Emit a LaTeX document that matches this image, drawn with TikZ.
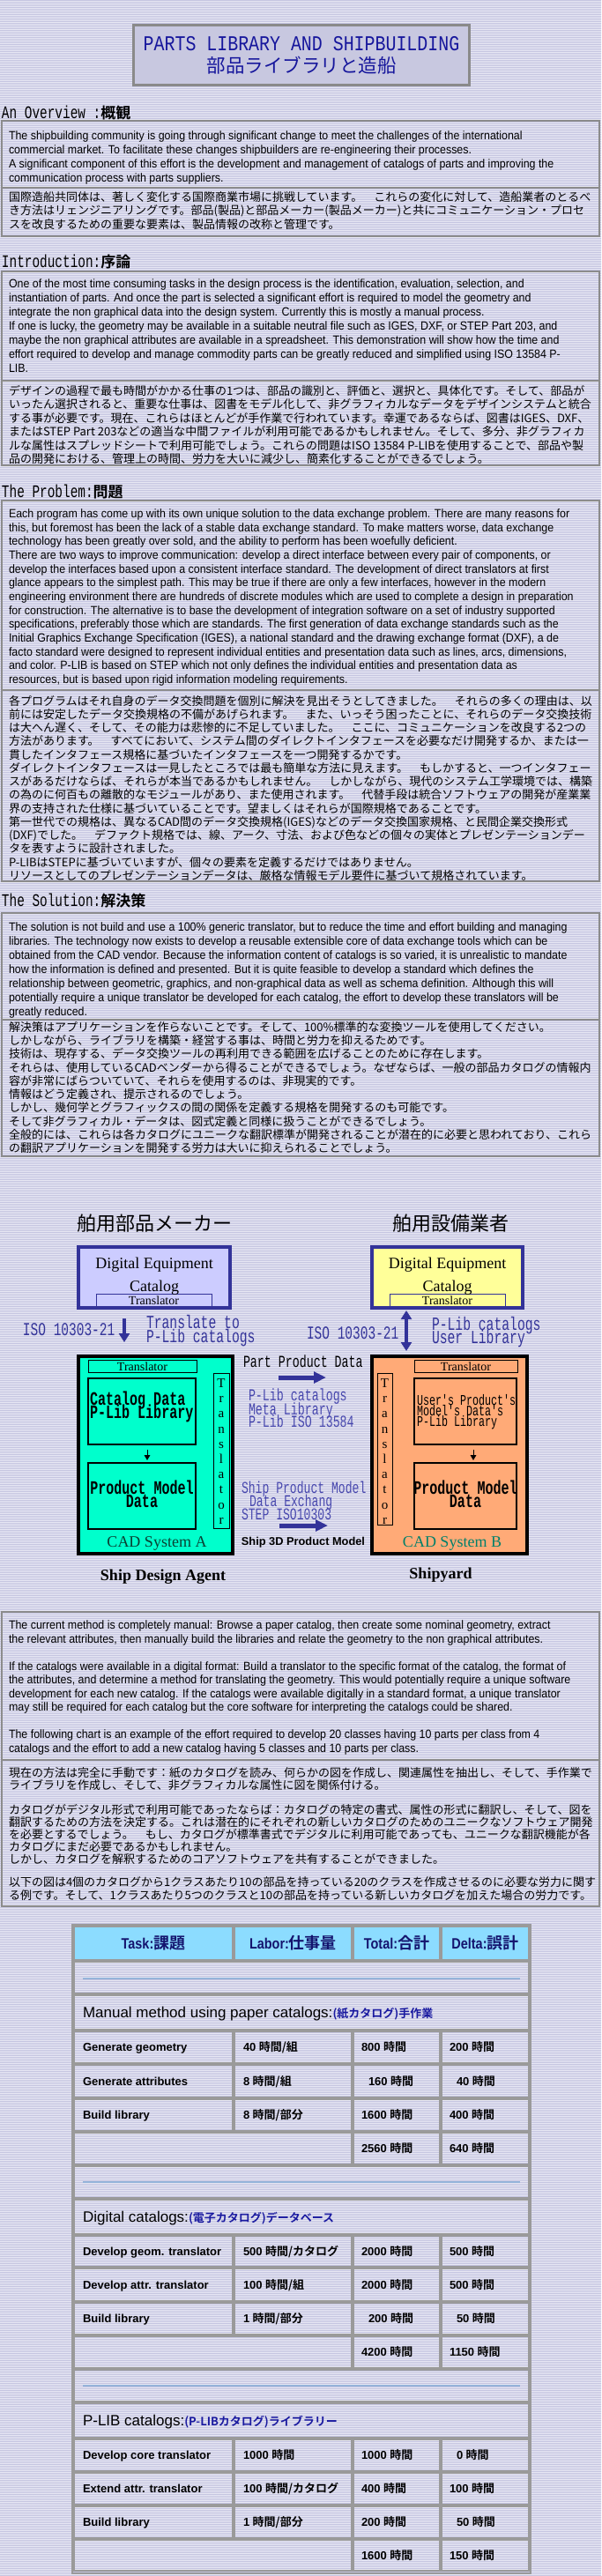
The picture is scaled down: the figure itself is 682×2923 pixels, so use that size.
\documentclass[tikz,border=0pt]{standalone}
\usepackage{fontspec}
\usetikzlibrary{arrows.meta,patterns.meta}
\setmainfont{Liberation Serif}
\newfontfamily\fEn[FakeStretch=0.92]{Liberation Sans}
\newfontfamily\fEnR{Liberation Sans}
\newfontfamily\fEnB{Liberation Sans Bold}
\newfontfamily\fEnHB[FakeStretch=0.85]{Liberation Sans Bold}
\newfontfamily\fJp{Noto Sans CJK JP}
\newfontfamily\fJpB{Noto Sans CJK JP Bold}
\newfontfamily\fHd[FakeStretch=0.72]{Liberation Mono}
\newfontfamily\fTl[FakeStretch=0.83]{Liberation Mono}
\newfontfamily\fDm[FakeStretch=0.7]{Liberation Mono}
\newfontfamily\fDmB[FakeStretch=0.7]{Liberation Mono Bold}
\newfontfamily\fSe{Liberation Serif}
\newfontfamily\fSeB{Liberation Serif Bold}
\newdimen\pxu \pxu=0.75pt
\newcommand\fsz[2]{\fontsize{#1\pxu}{#2\pxu}\selectfont}
\newcommand\ptext[3]{\parbox[t]{720\pxu}{\raggedright\fsz{#1}{#2}#3}}
\definecolor{bgA}{HTML}{E8E8F4}
\definecolor{bgB}{HTML}{C4C4E0}
\definecolor{titlefill}{HTML}{C8C8E0}
\definecolor{titleborder}{HTML}{8A8A8A}
\definecolor{titleblue}{HTML}{16169C}
\definecolor{panelline}{HTML}{8C8C8C}
\definecolor{navy}{HTML}{333399}
\definecolor{midblue}{HTML}{4848AE}
\definecolor{lavbox}{HTML}{CCCCFF}
\definecolor{yelbox}{HTML}{FFFF99}
\definecolor{aqua}{HTML}{00FFCC}
\definecolor{orng}{HTML}{FFAA77}
\definecolor{cadAc}{HTML}{0A4032}
\definecolor{cadBc}{HTML}{00806A}
\definecolor{hdrfill}{HTML}{8CDCFF}
\definecolor{hdrtext}{HTML}{14146E}
\definecolor{hrline}{HTML}{95B4DA}
\definecolor{jpblue}{HTML}{1A1AA0}
\definecolor{cellline}{HTML}{9A9A9A}
\newcounter{rw}
\newcommand\bx[7][]{\node[inner sep=0pt,outer sep=0pt,minimum width={((#5)-(#3))*0.75pt},minimum height={((#6)-(#4))*0.75pt},#1] (#2) at ({((#3)+(#5))/2},{((#4)+(#6))/2}) {#7};}
\newcommand\tv[2]{{\fEnB\fsz{13}{13}#1}\hspace{3.5\pxu}{\fJpB\fsz{13}{13}#2}}
\newcommand\trow[8]{\stepcounter{rw}%
\bx[cell]{ca\arabic{rw}}{84}{(#1)+1}{264}{(#2)-1}{}%
\bx[cell]{cb\arabic{rw}}{266}{(#1)+1}{399}{(#2)-1}{}%
\bx[cell]{cc\arabic{rw}}{401}{(#1)+1}{499}{(#2)-1}{}%
\bx[cell]{cd\arabic{rw}}{501}{(#1)+1}{600}{(#2)-1}{}%
\node[ptxt] (ta\arabic{rw}) at (94,{((#1)+(#2))/2+4.7}) {\fEnB\fsz{13}{13}#3};%
\node[ptxt] (tb\arabic{rw}) at (276,{((#1)+(#2))/2+4.7}) {#4};%
\node[ptxt] (tc\arabic{rw}) at (#7,{((#1)+(#2))/2+4.7}) {#5};%
\node[ptxt] (td\arabic{rw}) at (#8,{((#1)+(#2))/2+4.7}) {#6};}
\newcommand\ttot[4]{\stepcounter{rw}%
\bx[cell]{ca\arabic{rw}}{84}{(#1)+1}{399}{(#2)-1}{}%
\bx[cell]{cc\arabic{rw}}{401}{(#1)+1}{499}{(#2)-1}{}%
\bx[cell]{cd\arabic{rw}}{501}{(#1)+1}{600}{(#2)-1}{}%
\node[ptxt] (tc\arabic{rw}) at (410,{((#1)+(#2))/2+4.7}) {#3};%
\node[ptxt] (td\arabic{rw}) at (510,{((#1)+(#2))/2+4.7}) {#4};}
\newcommand\tsec[3]{\stepcounter{rw}%
\bx[cell]{cs\arabic{rw}}{84}{(#1)+1}{600}{(#2)-1}{}%
\node[ptxt] (ts\arabic{rw}) at (94,{((#1)+(#2))/2+6}) {#3};}
\newcommand\tsp[3]{\stepcounter{rw}%
\bx[cell]{cp\arabic{rw}}{84}{(#1)+1}{600}{(#2)-1}{}%
\coordinate (hra\arabic{rw}) at (94,#3);\coordinate (hrb\arabic{rw}) at (590,#3);%
\draw[hrline,line width=1.5pt] (hra\arabic{rw}) -- (hrb\arabic{rw});}
\begin{document}
\begin{tikzpicture}[x=0.75pt,y=-0.75pt,
  ptxt/.style={anchor=base west,inner sep=0pt,outer sep=0pt},
  ctxt/.style={anchor=base,inner sep=0pt,outer sep=0pt},
  panel/.style={draw=panelline,line width=1.1pt},
  cell/.style={draw=cellline,line width=1.1pt},
  bigarrow/.style={draw=navy,line width=3.75pt,-{Triangle[length=10.5pt,width=9.5pt]}},
  varrow/.style={draw=navy,line width=3pt},
  smallarrow/.style={draw=black,line width=0.75pt,-{Triangle[length=4.5pt,width=5pt]}}]
\path[use as bounding box] (0,0) rectangle (682,2923);
\fill[bgA] (0,0) rectangle (682,2923);
\fill[pattern={Lines[angle=0,distance=1.5pt,line width=0.75pt]},pattern color=bgB] (0,0) rectangle (682,2923);
% title
\bx[draw=titleborder,fill=titlefill,line width=2.25pt]{title}{151.5}{28.5}{532.5}{96.5}{}
\node[ctxt,text=titleblue] (tl1) at (342,57) {\fTl\fsz{24}{24}PARTS LIBRARY AND SHIPBUILDING};
\node[ctxt,text=titleblue] (tl2) at (342,82) {\fJp\fsz{21.5}{22}部品ライブラリと造船};
% overview
\node[ptxt] (h1) at (2,134) {{\fHd\fsz{20}{20}An Overview :}{\fJpB\fsz{17}{17}概観}};
\bx[panel]{ovE}{2}{137}{680}{213}{}
\bx[panel]{ovJ}{2}{213}{680}{268}{}
\node[ptxt] (ovEt) at (10,158) {\fEn\ptext{13.5}{16}{The shipbuilding community is going through significant change to meet the challenges of the international\\
commercial market. To facilitate these changes shipbuilders are re-engineering their processes.\\
A significant component of this effort is the development and management of catalogs of parts and improving the\\
communication process with parts suppliers.}};
\node[ptxt] (ovJt) at (10,228) {\fJp\ptext{13}{15.5}{国際造船共同体は、著しく変化する国際商業市場に挑戦しています。　これらの変化に対して、造船業者のとるべ\\
き方法はリェンジニアリングです。部品(製品)と部品メーカー(製品メーカー)と共にコミュニケーション・プロセ\\
スを改良するための重要な要素は、製品情報の改称と管理です。}};
% introduction
\node[ptxt] (h2) at (2,303) {{\fHd\fsz{20}{20}Introduction:}{\fJpB\fsz{17}{17}序論}};
\bx[panel]{inE}{2}{308}{680}{432}{}
\bx[panel]{inJ}{2}{432}{680}{528}{}
\node[ptxt] (inEt) at (10,326.5) {\fEn\ptext{13.5}{16}{One of the most time consuming tasks in the design process is the identification, evaluation, selection, and\\
instantiation of parts. And once the part is selected a significant effort is required to model the geometry and\\
integrate the non graphical data into the design system. Currently this is mostly a manual process.\\
If one is lucky, the geometry may be available in a suitable neutral file such as IGES, DXF, or STEP Part 203, and\\
maybe the non graphical attributes are available in a spreadsheet. This demonstration will show how the time and\\
effort required to develop and manage commodity parts can be greatly reduced and simplified using ISO 13584 P-\\
LIB.}};
\node[ptxt] (inJt) at (10,448) {\fJp\ptext{13}{15.5}{デザインの過程で最も時間がかかる仕事の1つは、部品の識別と、評価と、選択と、具体化です。そして、部品が\\
いったん選択されると、重要な仕事は、図書をモデル化して、非グラフィカルなデータをデザインシステムと統合\\
する事が必要です。現在、これらはほとんどが手作業で行われています。幸運であるならば、図書はIGES、DXF、\\
またはSTEP Part 203などの適当な中間ファイルが利用可能であるかもしれません。そして、多分、非グラフィカ\\
ルな属性はスプレッドシートで利用可能でしょう。これらの問題はISO 13584 P-LIBを使用することで、部品や製\\
品の開発における、管理上の時間、労力を大いに減少し、簡素化することができるでしょう。}};
% problem
\node[ptxt] (h3) at (2,564) {{\fHd\fsz{20}{20}The Problem:}{\fJpB\fsz{17}{17}問題}};
\bx[panel]{prE}{2}{568}{680}{783}{}
\bx[panel]{prJ}{2}{783}{680}{1000}{}
\node[ptxt] (prEt) at (10,587.5) {\fEn\ptext{13.5}{15.67}{Each program has come up with its own unique solution to the data exchange problem. There are many reasons for\\
this, but foremost has been the lack of a stable data exchange standard. To make matters worse, data exchange\\
technology has been greatly over sold, and the ability to perform has been woefully deficient.\\
There are two ways to improve communication: develop a direct interface between every pair of components, or\\
develop the interfaces based upon a consistent interface standard. The development of direct translators at first\\
glance appears to the simplest path. This may be true if there are only a few interfaces, however in the modern\\
engineering environment there are hundreds of discrete modules which are used to complete a design in preparation\\
for construction. The alternative is to base the development of integration software on a set of industry supported\\
specifications, preferably those which are standards. The first generation of data exchange standards such as the\\
Initial Graphics Exchange Specification (IGES), a national standard and the drawing exchange format (DXF), a de\\
facto standard were designed to represent individual entities and presentation data such as lines, arcs, dimensions,\\
and color. P-LIB is based on STEP which not only defines the individual entities and presentation data as\\
resources, but is based upon rigid information modeling requirements.}};
\node[ptxt] (prJt) at (10,800) {\fJp\ptext{13}{15.25}{各プログラムはそれ自身のデータ交換問題を個別に解決を見出そうとしてきました。　それらの多くの理由は、以\\
前には安定したデータ交換規格の不備があげられます。　また、いっそう困ったことに、それらのデータ交換技術\\
は大へん遅く、そして、その能力は悲惨的に不足していました。　ここに、コミュニケーションを改良する2つの\\
方法があります。　すべてにおいて、システム間のダイレクトインタフェースを必要なだけ開発するか、または一\\
貫したインタフェース規格に基づいたインタフェースを一つ開発するかです。\\
ダイレクトインタフェースは一見したところでは最も簡単な方法に見えます。　もしかすると、一つインタフェー\\
スがあるだけならば、それらが本当であるかもしれません。　しかしながら、現代のシステム工学環境では、構築\\
の為のに何百もの離散的なモジュールがあり、また使用されます。　代替手段は統合ソフトウェアの開発が産業業\\
界の支持された仕様に基づいていることです。望ましくはそれらが国際規格であることです。\\
第一世代での規格は、異なるCAD間のデータ交換規格(IGES)などのデータ交換国家規格、と民間企業交換形式\\
(DXF)でした。　デファクト規格では、線、アーク、寸法、および色などの個々の実体とプレゼンテーションデー\\
タを表すように設計されました。\\
P-LIBはSTEPに基づいていますが、個々の要素を定義するだけではありません。\\
リソースとしてのプレゼンテーションデータは、厳格な情報モデル要件に基づいて規格されています。}};
% solution
\node[ptxt] (h4) at (2,1028) {{\fHd\fsz{20}{20}The Solution:}{\fJpB\fsz{17}{17}解決策}};
\bx[panel]{soE}{2}{1036}{680}{1157}{}
\bx[panel]{soJ}{2}{1157}{680}{1312}{}
\node[ptxt] (soEt) at (10,1056.5) {\fEn\ptext{13.5}{16}{The solution is not build and use a 100\% generic translator, but to reduce the time and effort building and managing\\
libraries. The technology now exists to develop a reusable extensible core of data exchange tools which can be\\
obtained from the CAD vendor. Because the information content of catalogs is so varied, it is unrealistic to mandate\\
how the information is defined and presented. But it is quite feasible to develop a standard which defines the\\
relationship between geometric, graphics, and non-graphical data as well as schema definition. Although this will\\
potentially require a unique translator be developed for each catalog, the effort to develop these translators will be\\
greatly reduced.}};
\node[ptxt] (soJt) at (10,1170) {\fJp\ptext{13}{15.33}{解決策はアプリケーションを作らないことです。そして、100\%標準的な変換ツールを使用してください。\\
しかしながら、ライブラリを構築・経営する事は、時間と労力を抑えるためです。\\
技術は、現存する、データ交換ツールの再利用できる範囲を広げることのために存在します。\\
それらは、使用しているCADベンダーから得ることができるでしょう。なぜならば、一般の部品カタログの情報内\\
容が非常にばらついていて、それらを使用するのは、非現実的です。\\
情報はどう定義され、提示されるのでしょう。\\
しかし、幾何学とグラフィックスの間の関係を定義する規格を開発するのも可能です。\\
そして非グラフィカル・データは、図式定義と同様に扱うことができるでしょう。\\
全般的には、これらは各カタログにユニークな翻訳標準が開発されることが潜在的に必要と思われており、これら\\
の翻訳アプリケーションを開発する労力は大いに抑えられることでしょう。}};
% ===== diagram =====
\node[ctxt] (jl) at (175,1396) {\fJp\fsz{22}{22}舶用部品メーカー};
\node[ctxt] (jr) at (511,1396) {\fJp\fsz{22}{22}舶用設備業者};
\bx[draw=navy,fill=lavbox,line width=3pt]{catL}{89}{1415}{261}{1484}{}
\bx[draw=navy,line width=0.75pt]{trL}{109}{1468}{240}{1483}{}
\node[ctxt] (catLt1) at (175,1439) {\fSe\fsz{18}{18}Digital Equipment};
\node[ctxt] (catLt2) at (175,1465) {\fSe\fsz{18}{18}Catalog};
\node[ctxt] (trLt) at (174.5,1480) {\fSe\fsz{14}{14}Translator};
\bx[draw=navy,fill=yelbox,line width=3pt]{catR}{422}{1415}{593}{1484}{}
\bx[draw=navy,line width=0.75pt]{trR}{442}{1468}{573}{1483}{}
\node[ctxt] (catRt1) at (507.5,1439) {\fSe\fsz{18}{18}Digital Equipment};
\node[ctxt] (catRt2) at (507.5,1465) {\fSe\fsz{18}{18}Catalog};
\node[ctxt] (trRt) at (507.5,1480) {\fSe\fsz{14}{14}Translator};
% labels between
\node[ptxt,text=navy] (isoL) at (26,1515) {\fDm\fsz{20.7}{20.7}ISO 10303-21};
\node[ptxt,text=navy] (trto) at (166,1507) {\fDm\fsz{21}{21}Translate to};
\node[ptxt,text=navy] (trto2) at (166,1523) {\fDm\fsz{21}{21}P-Lib catalogs};
\node[ptxt,text=navy] (isoR) at (348,1519) {\fDm\fsz{20.7}{20.7}ISO 10303-21};
\node[ptxt,text=navy] (ulib1) at (490,1509) {\fDm\fsz{21}{21}P-Lib catalogs};
\node[ptxt,text=navy] (ulib2) at (490,1524) {\fDm\fsz{21}{21}User Library};
\coordinate (la1) at (141,1496);
\coordinate (la2) at (141,1523);
\draw[varrow,-{Triangle[length=7.5pt,width=9pt]}] (la1) -- (la2);
\coordinate (ra1) at (461,1487);
\coordinate (ra2) at (461,1533);
\draw[varrow,{Triangle[length=7.5pt,width=9pt]}-{Triangle[length=7.5pt,width=9pt]}] (ra1) -- (ra2);
% CAD A
\bx[draw=black,fill=aqua,line width=3pt]{cadA}{89}{1539}{264}{1763}{}
\bx[draw=black,line width=0.75pt]{trA}{100}{1543}{223}{1557}{}
\node[ctxt] (trAt) at (161.5,1555) {\fSe\fsz{14}{14}Translator};
\bx[draw=black,line width=1.5pt]{catData}{100}{1564}{222}{1639}{}
\node[ptxt] (catDt1) at (102,1594.5) {\fDmB\fsz{21.5}{21.5}Catalog Data};
\node[ptxt] (catDt2) at (102,1609.5) {\fDmB\fsz{21.5}{21.5}P-Lib Library};
\coordinate (sa1) at (167,1645);
\coordinate (sa2) at (167,1657);
\draw[smallarrow] (sa1) -- (sa2);
\bx[draw=black,line width=1.5pt]{pmdA}{100}{1660}{222}{1735}{}
\node[ctxt] (pmdAt1) at (161,1695.5) {\fDmB\fsz{21.5}{21.5}Product Model};
\node[ctxt] (pmdAt2) at (161,1710.5) {\fDmB\fsz{21.5}{21.5}Data};
\bx[draw=black,line width=0.75pt]{vtA}{242}{1558}{260}{1734}{}
\node[inner sep=0pt,align=center,font=\fSe\fsz{15}{17.2}] (vtAt) at (251,1647) {T\\r\\a\\n\\s\\l\\a\\t\\o\\r};
\node[ctxt,text=cadAc] (cadAt) at (178,1755) {\fSe\fsz{18}{18}CAD System A};
% CAD B
\bx[draw=black,fill=orng,line width=3pt]{cadB}{422}{1539}{598}{1763}{}
\bx[draw=black,line width=0.75pt]{trB}{470}{1543}{587}{1557}{}
\node[ctxt] (trBt) at (528.5,1555) {\fSe\fsz{14}{14}Translator};
\bx[draw=black,line width=1.5pt]{userB}{470}{1564}{586}{1639}{}
\node[ptxt] (userBt1) at (473,1594) {\fDm\fsz{16.7}{16.7}User's Product's};
\node[ptxt] (userBt2) at (473,1606) {\fDm\fsz{16.7}{16.7}Model's Data's};
\node[ptxt] (userBt3) at (473,1618) {\fDm\fsz{16.7}{16.7}P-Lib Library};
\coordinate (sb1) at (537,1645);
\coordinate (sb2) at (537,1657);
\draw[smallarrow] (sb1) -- (sb2);
\bx[draw=black,line width=1.5pt]{pmdB}{470}{1660}{586}{1735}{}
\node[ctxt] (pmdBt1) at (528,1695.5) {\fDmB\fsz{21.5}{21.5}Product Model};
\node[ctxt] (pmdBt2) at (528,1710.5) {\fDmB\fsz{21.5}{21.5}Data};
\bx[draw=black,line width=0.75pt]{vtB}{428}{1558}{445}{1730}{}
\node[inner sep=0pt,align=center,font=\fSe\fsz{15}{17.2}] (vtBt) at (436.5,1647) {T\\r\\a\\n\\s\\l\\a\\t\\o\\r};
\node[ctxt,text=cadBc] (cadBt) at (513,1755) {\fSe\fsz{18}{18}CAD System B};
% middle
\node[ptxt] (ppd) at (276,1551) {\fDm\fsz{19}{19}Part Product Data};
\coordinate (ma1) at (316,1563);
\coordinate (ma2) at (370,1563);
\draw[bigarrow] (ma1) -- (ma2);
\node[ptxt,text=midblue] (ml1) at (282,1589) {\fDm\fsz{19}{19}P-Lib catalogs};
\node[ptxt,text=midblue] (ml2) at (282,1605) {\fDm\fsz{19}{19}Meta Library};
\node[ptxt,text=midblue] (ml3) at (282,1619) {\fDm\fsz{19}{19}P-Lib ISO 13584};
\node[ptxt,text=midblue] (sp1) at (274,1694) {\fDm\fsz{18.7}{18.7}Ship Product Model};
\node[ptxt,text=midblue] (sp2) at (283,1709) {\fDm\fsz{18.7}{18.7}Data Exchang};
\node[ptxt,text=midblue] (sp3) at (274,1724) {\fDm\fsz{18.7}{18.7}STEP ISO10303};
\coordinate (mb1) at (317,1731);
\coordinate (mb2) at (372,1731);
\draw[bigarrow] (mb1) -- (mb2);
\node[ctxt] (s3d) at (344,1753.5) {\fEnB\fsz{12.8}{12.8}Ship 3D Product Model};
\node[ctxt] (sda) at (185,1793) {\fSeB\fsz{18}{18}Ship Design Agent};
\node[ctxt] (syd) at (500,1791) {\fSeB\fsz{18}{18}Shipyard};
% ===== post text =====
\bx[panel]{poE}{2}{1829}{680}{1997}{}
\bx[panel]{poJ}{2}{1997}{680}{2163}{}
\node[ptxt] (poEt) at (10,1848.5) {\fEn\ptext{13.5}{15.5}{The current method is completely manual: Browse a paper catalog, then create some nominal geometry, extract\\
the relevant attributes, then manually build the libraries and relate the geometry to the non graphical attributes.\\
\mbox{}\\
If the catalogs were available in a digital format: Build a translator to the specific format of the catalog, the format of\\
the attributes, and determine a method for translating the geometry. This would potentially require a unique software\\
development for each new catalog. If the catalogs were available digitally in a standard format, a unique translator\\
may still be required for each catalog but the core software for interpreting the catalogs could be shared.\\
\mbox{}\\
The following chart is an example of the effort required to develop 20 classes having 10 parts per class from 4\\
catalogs and the effort to add a new catalog having 5 classes and 10 parts per class.}};
\node[ptxt] (poJt1) at (10,2016) {\fJp\ptext{13}{14.5}{現在の方法は完全に手動です：紙のカタログを読み、何らかの図を作成し、関連属性を抽出し、そして、手作業で\\
ライブラリを作成し、そして、非グラフィカルな属性に図を関係付ける。}};
\node[ptxt] (poJt2) at (10,2058) {\fJp\ptext{13}{14}{カタログがデジタル形式で利用可能であったならば：カタログの特定の書式、属性の形式に翻訳し、そして、図を\\
翻訳するための方法を決定する。これは潜在的にそれぞれの新しいカタログのためのユニークなソフトウェア開発\\
を必要とするでしょう。　もし、カタログが標準書式でデジタルに利用可能であっても、ユニークな翻訳機能が各\\
カタログにまだ必要であるかもしれません。\\
しかし、カタログを解釈するためのコアソフトウェアを共有することができました。}};
\node[ptxt] (poJt3) at (10,2140) {\fJp\ptext{13}{15}{以下の図は4個のカタログから1クラスあたり10の部品を持っている20のクラスを作成させるのに必要な労力に関す\\
る例です。そして、1クラスあたり5つのクラスと10の部品を持っている新しいカタログを加えた場合の労力です。}};
% ===== table =====
\bx[cell]{tbl}{82}{2184}{602}{2920}{}
\bx[cell,fill=hdrfill,text=hdrtext]{hT}{84}{2186}{264}{2224}{{\fEnHB\fsz{17}{17}Task:}{\fJpB\fsz{18}{18}課題}}
\bx[cell,fill=hdrfill,text=hdrtext]{hL}{266}{2186}{399}{2224}{{\fEnHB\fsz{17}{17}Labor:}{\fJpB\fsz{18}{18}仕事量}}
\bx[cell,fill=hdrfill,text=hdrtext]{hTo}{401}{2186}{499}{2224}{{\fEnHB\fsz{17}{17}Total:}{\fJpB\fsz{18}{18}合計}}
\bx[cell,fill=hdrfill,text=hdrtext]{hD}{501}{2186}{600}{2224}{{\fEnHB\fsz{17}{17}Delta:}{\fJpB\fsz{18}{18}誤計}}
\tsp{2225}{2263}{2245}
\tsec{2263}{2304}{{\fEnR\fsz{17}{17}Manual method using paper catalogs:}{\color{jpblue}\fJpB\fsz{13}{13}(紙カタログ)手作業}}
\trow{2304}{2342}{Generate geometry}{\tv{40}{時間/組}}{\tv{800}{時間}}{\tv{200}{時間}}{410}{510}
\trow{2342}{2381}{Generate attributes}{\tv{8}{時間/組}}{\tv{160}{時間}}{\tv{40}{時間}}{418}{518}
\trow{2381}{2419}{Build library}{\tv{8}{時間/部分}}{\tv{1600}{時間}}{\tv{400}{時間}}{410}{510}
\ttot{2419}{2457}{\tv{2560}{時間}}{\tv{640}{時間}}
\tsp{2457}{2495}{2476}
\tsec{2495}{2536}{{\fEnR\fsz{17}{17}Digital catalogs:}{\color{jpblue}\fJpB\fsz{13}{13}(電子カタログ)データベース}}
\trow{2536}{2573}{Develop geom. translator}{\tv{500}{時間/カタログ}}{\tv{2000}{時間}}{\tv{500}{時間}}{410}{510}
\trow{2573}{2612}{Develop attr. translator}{\tv{100}{時間/組}}{\tv{2000}{時間}}{\tv{500}{時間}}{410}{510}
\trow{2612}{2650}{Build library}{\tv{1}{時間/部分}}{\tv{200}{時間}}{\tv{50}{時間}}{418}{518}
\ttot{2650}{2688}{\tv{4200}{時間}}{\tv{1150}{時間}}
\tsp{2688}{2726}{2707}
\tsec{2726}{2767}{{\fEnR\fsz{17}{17}P-LIB catalogs:}{\color{jpblue}\fJpB\fsz{13}{13}(P-LIBカタログ)ライブラリー}}
\trow{2767}{2805}{Develop core translator}{\tv{1000}{時間}}{\tv{1000}{時間}}{\tv{0}{時間}}{410}{518}
\trow{2805}{2843}{Extend attr. translator}{\tv{100}{時間/カタログ}}{\tv{400}{時間}}{\tv{100}{時間}}{410}{510}
\trow{2843}{2881}{Build library}{\tv{1}{時間/部分}}{\tv{200}{時間}}{\tv{50}{時間}}{410}{518}
\ttot{2881}{2918}{\tv{1600}{時間}}{\tv{150}{時間}}
\end{tikzpicture}
\end{document}
